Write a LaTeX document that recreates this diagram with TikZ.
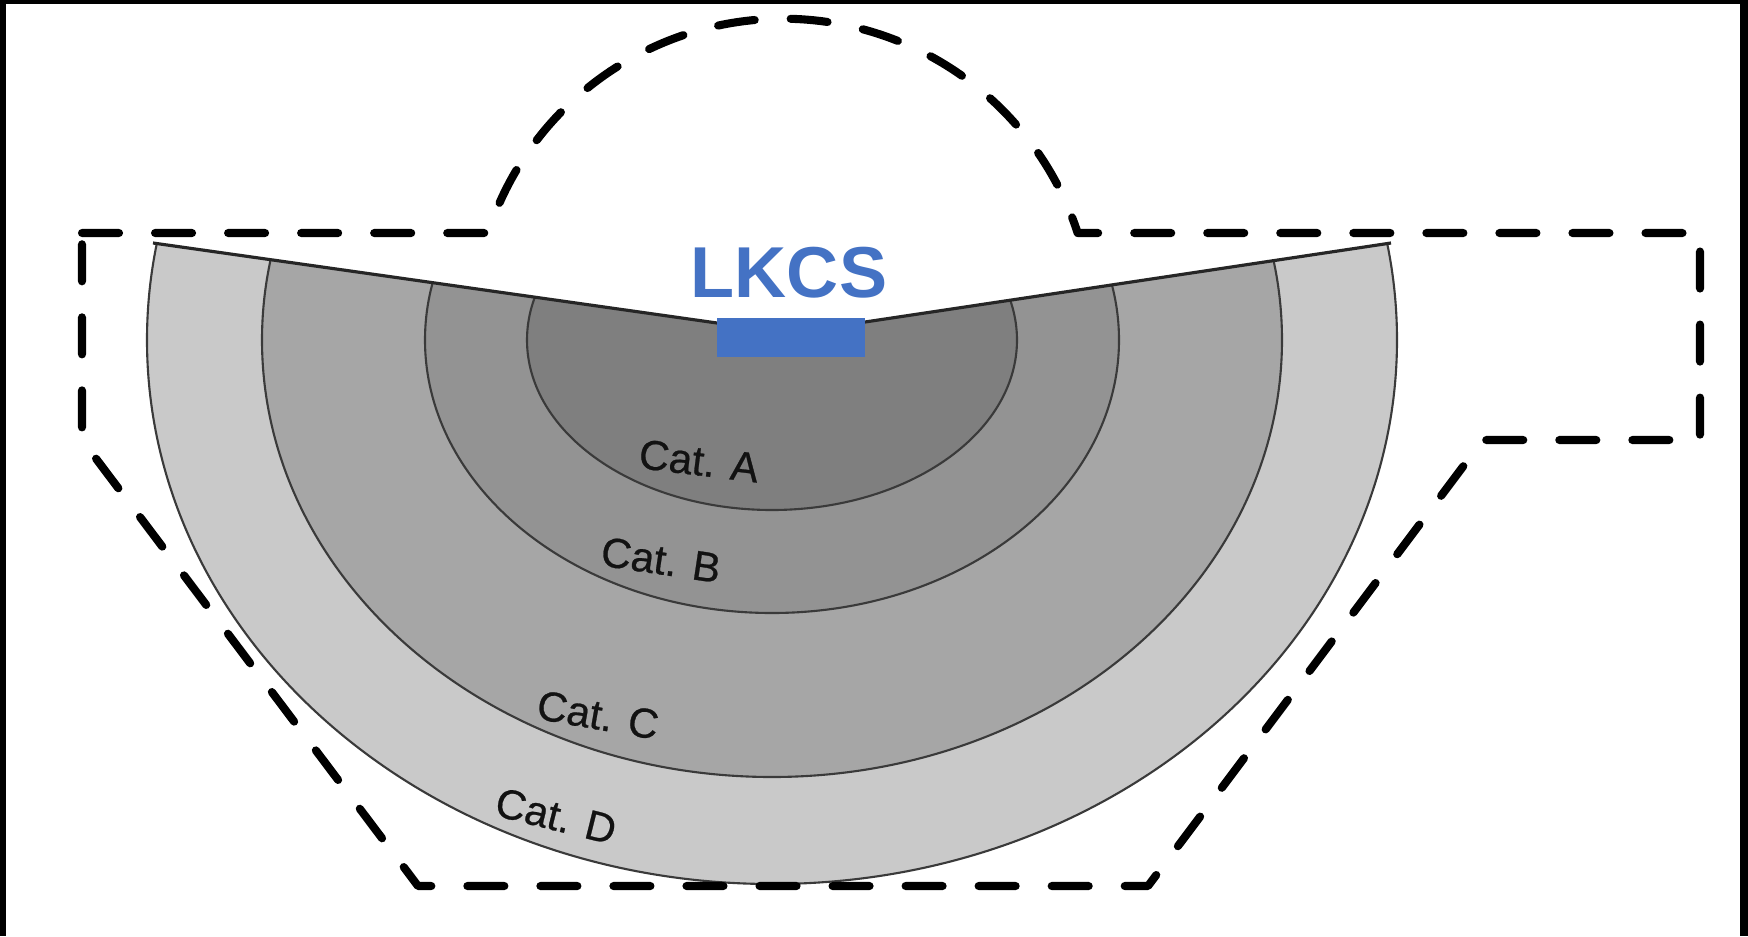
\documentclass[tikz,border=0pt]{standalone}
\usepackage{fontspec}
\setmainfont{Liberation Sans}
\newfontfamily\catfont[FakeBold=0.6]{Liberation Sans}
\definecolor{zoneD}{HTML}{C9C9C9}
\definecolor{zoneC}{HTML}{A6A6A6}
\definecolor{zoneB}{HTML}{939393}
\definecolor{zoneA}{HTML}{7F7F7F}
\definecolor{zoneline}{HTML}{3A3A3A}
\definecolor{lkblue}{HTML}{4472C4}
\tikzset{
  dashline/.style={line width=2.3pt, line cap=round, line join=round, dash pattern=on 0.37cm off 0.36cm},
  zone/.style={draw=zoneline, line width=0.6pt},
  catlabel/.style={font=\catfont\fontsize{11.9}{14}\selectfont, text=black!93, inner sep=0pt},
}
\begin{document}
\begin{tikzpicture}[x=0.01cm,y=-0.01cm]
\useasboundingbox (0,0) rectangle (1748,936);
\fill[white] (0,0) rectangle (1748,936);
% black frame edges of the reference
\fill[black] (0,0) rectangle (1748,4);
\fill[black] (0,0) rectangle (6,936);
\fill[black] (1740,0) rectangle (1748,936);
% zones
\begin{scope}
  \clip (0,221) -- (717,323) -- (865,322) -- (1748,189) -- (1748,936) -- (0,936) -- cycle;
  \filldraw[zone, fill=zoneD] (772,340) ellipse [x radius=625, y radius=544];
  \filldraw[zone, fill=zoneC] (772,340) ellipse [x radius=510, y radius=437];
  \filldraw[zone, fill=zoneB] (772,340) ellipse [x radius=347, y radius=273];
  \filldraw[zone, fill=zoneA] (772,340) ellipse [x radius=245, y radius=170];
\end{scope}
% V-shaped top edge
\coordinate (vl) at (153,243);
\coordinate (vm1) at (717,323);
\coordinate (vm2) at (865,322);
\coordinate (vr) at (1391,243);
\draw[line width=0.9pt, black!85] (vl) -- (vm1);
\draw[line width=0.9pt, black!85] (vm2) -- (vr);
% LKCS
\fill[lkblue] (717,318) rectangle (865,357);
\node[text=lkblue, font=\bfseries\fontsize{20.5}{24}\selectfont, inner sep=0pt] (lkcs) at (789,273) {LKCS};
% labels
\node[catlabel, rotate=-7] (catA) at (699,461) {Cat. A};
\node[catlabel, rotate=-8.5] (catB) at (661,560) {Cat. B};
\node[catlabel, rotate=-10] (catC) at (598,715) {Cat. C};
\node[catlabel, rotate=-14] (catD) at (556,816) {Cat. D};
% dashed outline
\draw[dashline] (82,233) -- (488,233) arc[start angle=-162, end angle=-18, radius=310]
  -- (1700,233) -- (1700,440) -- (1483,440) -- (1148,886) -- (418,886) -- (82,440) -- cycle;
\end{tikzpicture}
\end{document}
